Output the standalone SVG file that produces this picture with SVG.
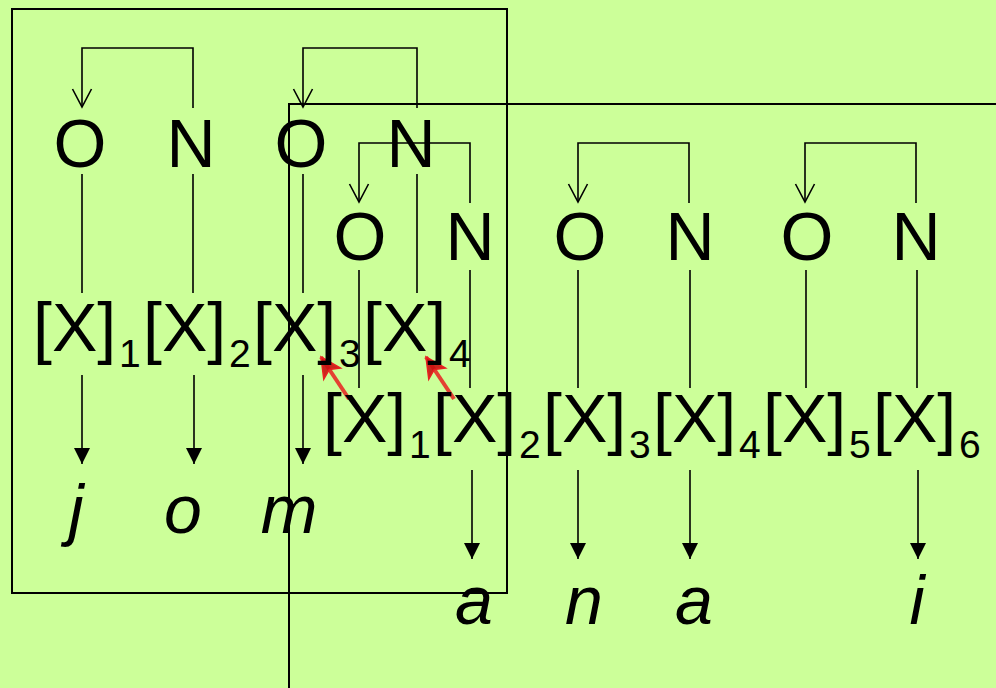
<svg xmlns="http://www.w3.org/2000/svg" width="996" height="688" viewBox="0 0 996 688">
<style>
.t{font-family:"Liberation Sans",Arial,sans-serif;font-size:68px;fill:#000}
.s{font-size:39px}
.i{font-family:"Liberation Sans",Arial,sans-serif;font-size:68px;font-style:italic;fill:#000;text-anchor:middle}
.m{text-anchor:middle}
.c{fill:none;stroke:#000;stroke-width:1.6}
.box{fill:none;stroke:#000;stroke-width:2}
.fb{marker-end:url(#vopen)}
.dn{marker-end:url(#tri)}
.red{fill:none;stroke:#E82020;stroke-width:4;stroke-opacity:0.85;marker-end:url(#redh)}
</style>
<defs>
<marker id="vopen" viewBox="-20 -11 22 22" markerWidth="22" markerHeight="22" refX="0" refY="0" orient="auto" markerUnits="userSpaceOnUse">
<path d="M-18,-9.5 L0,0 L-18,9.5" fill="none" stroke="#000" stroke-width="1.6"/>
</marker>
<marker id="tri" viewBox="-18 -10 20 20" markerWidth="20" markerHeight="20" refX="0" refY="0" orient="auto" markerUnits="userSpaceOnUse">
<path d="M-16,-8 L0,0 L-16,8 Z" fill="#000"/>
</marker>
<marker id="redh" viewBox="-24 -13 26 26" markerWidth="26" markerHeight="26" refX="0" refY="0" orient="auto" markerUnits="userSpaceOnUse">
<path d="M-20,-10 L0,0 L-20,10 L-15,0 Z" fill="#C81010" fill-opacity="0.9" stroke="#E82020" stroke-width="1.5"/>
</marker>
</defs>
<rect width="996" height="688" fill="#CCFF99"/>
<g id="boxes">
<rect class="box" x="12" y="9" width="495" height="584"/>
<path class="box" d="M289,700 V104 H1000"/>
</g>
<g id="connectors">
<path class="c fb" d="M193,108 V48 H82 V107"/>
<path class="c fb" d="M417,108 V48 H303 V107"/>
<path class="c fb" d="M470,203 V143 H359 V202"/>
<path class="c fb" d="M689,203 V143 H578 V202"/>
<path class="c fb" d="M916,203 V143 H805 V202"/>
<path class="c" d="M82,174 V293 M193,174 V293 M303,174 V293 M417,174 V293"/>
<path class="c" d="M359,270 V388 M470,270 V388 M578,270 V388 M690,270 V388 M806,270 V388 M917,270 V388"/>
<path class="c dn" d="M82,375 V464"/>
<path class="c dn" d="M194,375 V464"/>
<path class="c dn" d="M303,375 V464"/>
<path class="c dn" d="M472,470 V559"/>
<path class="c dn" d="M578,470 V559"/>
<path class="c dn" d="M690,470 V559"/>
<path class="c dn" d="M918,470 V559"/>
<path class="red" d="M349,399 L321,357"/>
<path class="red" d="M454,399 L426,357"/>
</g>
<g id="row1-ON">
<text class="t m" x="80" y="167">O</text>
<text class="t m" x="191" y="167">N</text>
<text class="t m" x="301" y="167">O</text>
<text class="t m" x="411" y="167">N</text>
</g>
<g id="row2-ON">
<text class="t m" x="360" y="260">O</text>
<text class="t m" x="470" y="260">N</text>
<text class="t m" x="580" y="260">O</text>
<text class="t m" x="690" y="260">N</text>
<text class="t m" x="807" y="260">O</text>
<text class="t m" x="916" y="260">N</text>
</g>
<g id="row1-X">
<text class="t" x="33" y="351">[X]<tspan class="s" x="119" y="367">1</tspan></text>
<text class="t" x="143" y="351">[X]<tspan class="s" x="229" y="367">2</tspan></text>
<text class="t" x="253" y="351">[X]<tspan class="s" x="339" y="367">3</tspan></text>
<text class="t" x="363" y="351">[X]<tspan class="s" x="449" y="367">4</tspan></text>
</g>
<g id="row2-X">
<text class="t" x="323" y="442">[X]<tspan class="s" x="409" y="458">1</tspan></text>
<text class="t" x="433" y="442">[X]<tspan class="s" x="519" y="458">2</tspan></text>
<text class="t" x="543" y="442">[X]<tspan class="s" x="629" y="458">3</tspan></text>
<text class="t" x="653" y="442">[X]<tspan class="s" x="739" y="458">4</tspan></text>
<text class="t" x="763" y="442">[X]<tspan class="s" x="849" y="458">5</tspan></text>
<text class="t" x="873" y="442">[X]<tspan class="s" x="959" y="458">6</tspan></text>
</g>
<g id="row1-letters">
<text class="i" x="76" y="533">j</text>
<text class="i" x="183" y="533">o</text>
<text class="i" x="289" y="533">m</text>
</g>
<g id="row2-letters">
<text class="i" x="474" y="624">a</text>
<text class="i" x="584" y="624">n</text>
<text class="i" x="694" y="624">a</text>
<text class="i" x="917" y="624">i</text>
</g>
</svg>
